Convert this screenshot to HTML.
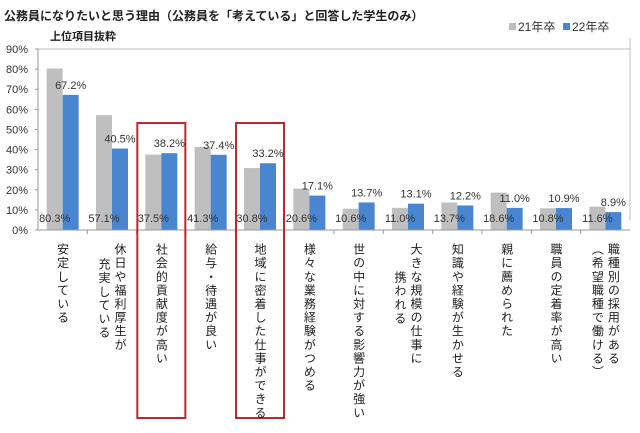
<!DOCTYPE html>
<html><head><meta charset="utf-8"><style>
html,body{margin:0;padding:0;background:#fff;}
body{width:640px;height:433px;overflow:hidden;position:relative;font-family:"Liberation Sans","Noto Sans CJK JP",sans-serif;}
.vl{position:absolute;writing-mode:vertical-rl;font-size:12px;letter-spacing:1.6px;line-height:16px;color:#222;}
</style></head><body>
<div style="position:absolute;left:4px;top:7px;font-size:12px;font-weight:bold;color:#222;white-space:nowrap;">公務員になりたいと思う理由（公務員を「考えている」と回答した学生のみ）</div>
<div style="position:absolute;left:50px;top:28px;font-size:11px;font-weight:bold;color:#222;">上位項目抜粋</div>
<svg id="c" width="640" height="433" style="position:absolute;left:0;top:0"></svg>
<div id="labels"></div>
<script>
const categories=[["安定している"],["休日や福利厚生が","充実している"],["社会的貢献度が高い"],["給与・待遇が良い"],["地域に密着した仕事ができる"],["様々な業務経験がつめる"],["世の中に対する影響力が強い"],["大きな規模の仕事に","携われる"],["知識や経験が生かせる"],["親に薦められた"],["職員の定着率が高い"],["職種別の採用がある","（希望職種で働ける）"]];
const series21=[80.3,57.1,37.5,41.3,30.8,20.6,10.6,11.0,13.7,18.6,10.8,11.6];
const series22=[67.2,40.5,38.2,37.4,33.2,17.1,13.7,13.1,12.2,11.0,10.9,8.9];
const yTicks=[0,10,20,30,40,50,60,70,80,90];
const highlighted=[2,4];
const NS="http://www.w3.org/2000/svg";
const svg=document.getElementById('c');
const X0=38,X1=630,Y0=230,Y90=49;
const pitch=(X1-X0)/categories.length;
const y=v=>Y0-(v/90)*(Y0-Y90);
const cx=i=>X0+pitch*(i+0.5);
function mk(t,a){const e=document.createElementNS(NS,t);for(const k in a)e.setAttribute(k,a[k]);svg.appendChild(e);return e;}
let e;
e=mk('line',{x1:X0,y1:Y90,x2:X1,y2:Y90,stroke:'#bbb','stroke-width':1});

e=mk('line',{x1:X1,y1:38,x2:X1,y2:220,stroke:'#bbb','stroke-width':1});

yTicks.forEach(t=>{
 e=mk('text',{x:X0-10,y:y(t)+4,'text-anchor':'end','font-size':11,fill:'#333'});e.textContent=t+'%';
 
 e=mk('line',{x1:X0-3,y1:y(t),x2:X0,y2:y(t),stroke:'#999'});
 
});
categories.forEach((c,i)=>{
 const c0=cx(i);
 e=mk('rect',{x:c0-16,y:y(series21[i]),width:16,height:Y0-y(series21[i]),fill:'#bfbfbf'});
 
 e=mk('rect',{x:c0,y:y(series22[i]),width:16,height:Y0-y(series22[i]),fill:'#4a86d0'});
 
 e=mk('text',{x:c0-8,y:222,'text-anchor':'middle','font-size':11,fill:'#333'});e.textContent=series21[i].toFixed(1)+'%';
 
 e=mk('text',{x:c0+8,y:y(series22[i])-6,'text-anchor':'middle','font-size':11,fill:'#333'});e.textContent=series22[i].toFixed(1)+'%';
 
 if(i>0){e=mk('line',{x1:X0+pitch*i,y1:Y0,x2:X0+pitch*i,y2:Y0+4,stroke:'#999'});
 }
 c.forEach((line,j)=>{
  const d=document.createElement('div');d.className='vl';
  
  
  d.textContent=line;
  const n=c.length;
  const lx=c0+8*(n-1)-16*j-8;
  d.style.left=lx+'px';
  let top=243;
  if(j>0 && i===1) top=258;
  if(j>0 && i===7) top=271;
  d.style.top=top+'px';
  document.getElementById('labels').appendChild(d);
 });
});
e=mk('line',{x1:X0,y1:Y90,x2:X0,y2:Y0,stroke:'#999'});

e=mk('line',{x1:X0,y1:Y0,x2:X1,y2:Y0,stroke:'#999'});

highlighted.forEach(i=>{
 e=mk('rect',{x:cx(i)-24,y:123,width:48,height:295,fill:'none',stroke:'#c0272d','stroke-width':2});
 
});
e=mk('rect',{x:509,y:23,width:7,height:7,fill:'#bfbfbf'});
e=mk('text',{x:518,y:31,'font-size':12,fill:'#333'});e.textContent='21年卒';
e=mk('rect',{x:563,y:23,width:7,height:7,fill:'#4a86d0'});
e=mk('text',{x:572,y:31,'font-size':12,fill:'#333'});e.textContent='22年卒';
</script>
</body></html>
